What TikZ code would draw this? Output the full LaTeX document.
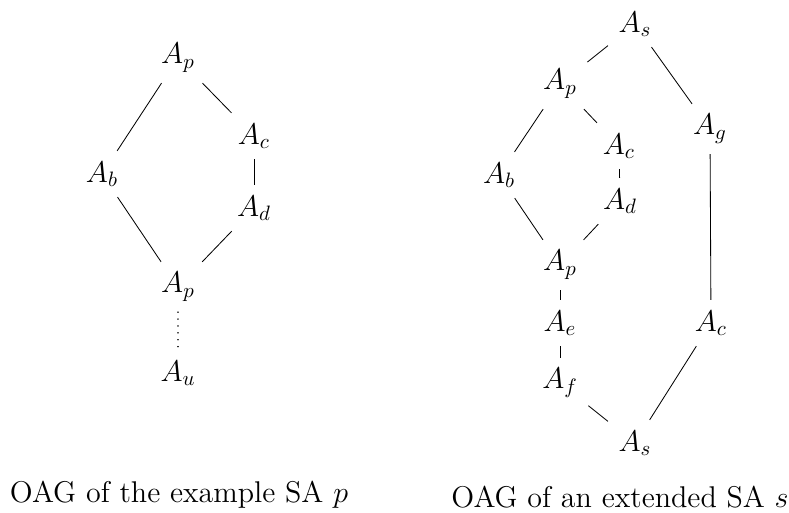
\documentclass[tikz,border=0pt]{standalone}
\usepackage{fontspec}
\begin{document}
\begin{tikzpicture}[x=0.48pt,y=-0.48pt,
  every node/.style={font=\Large},
  nd/.style={inner sep=5.1pt, outer sep=0pt},
  edge/.style={line width=0.4pt},
  dots/.style={line width=0.7pt, line cap=round, dash pattern=on 0.01pt off 3.3pt}]
\useasboundingbox (0,0) rectangle (789,512);
% left graph
\node[nd] (Lp1) at (178,58) {$A_p$};
\node[nd] (Lc) at (254,136) {$A_c$};
\node[nd] (Lb) at (102,174) {$A_b$};
\node[nd] (Ld) at (254,208) {$A_d$};
\node[nd] (Lp2) at (178,287) {$A_p$};
\node[nd] (Lu) at (178,373) {$A_u$};
\draw[edge] (Lp1) -- (Lb);
\draw[edge] (Lp1) -- (Lc);
\draw[edge] (Lc) -- (Ld);
\draw[edge] (Lb) -- (Lp2);
\draw[edge] (Ld) -- (Lp2);
\draw[dots] (Lp2) -- (Lu);
% right graph
\node[nd] (Rs1) at (635,24) {$A_s$};
\node[nd] (Rp1) at (560,84) {$A_p$};
\node[nd] (Rg) at (710,129) {$A_g$};
\node[nd] (Rc1) at (619,146) {$A_c$};
\node[nd] (Rb) at (499,175) {$A_b$};
\node[nd] (Rd) at (620,201) {$A_d$};
\node[nd] (Rp2) at (560,265) {$A_p$};
\node[nd] (Re) at (560,323) {$A_e$};
\node[nd] (Rf) at (560,383) {$A_f$};
\node[nd] (Rc2) at (711,323) {$A_c$};
\node[nd] (Rs2) at (635,443) {$A_s$};
\draw[edge] (Rs1) -- (Rp1);
\draw[edge] (Rs1) -- (Rg);
\draw[edge] (Rp1) -- (Rb);
\draw[edge] (Rp1) -- (Rc1);
\draw[edge] (Rc1) -- (Rd);
\draw[edge] (Rb) -- (Rp2);
\draw[edge] (Rd) -- (Rp2);
\draw[edge] (Rp2) -- (Re);
\draw[edge] (Re) -- (Rf);
\draw[edge] (Rf) -- (Rs2);
\draw[edge] (Rg) -- (Rc2);
\draw[edge] (Rc2) -- (Rs2);
% captions
\node[anchor=base, inner sep=0pt] (capL) at (179,502.5) {OAG of the example SA $p$};
\node[anchor=base, inner sep=0pt] (capR) at (620,507.5) {OAG of an extended SA $s$};
\end{tikzpicture}
\end{document}
